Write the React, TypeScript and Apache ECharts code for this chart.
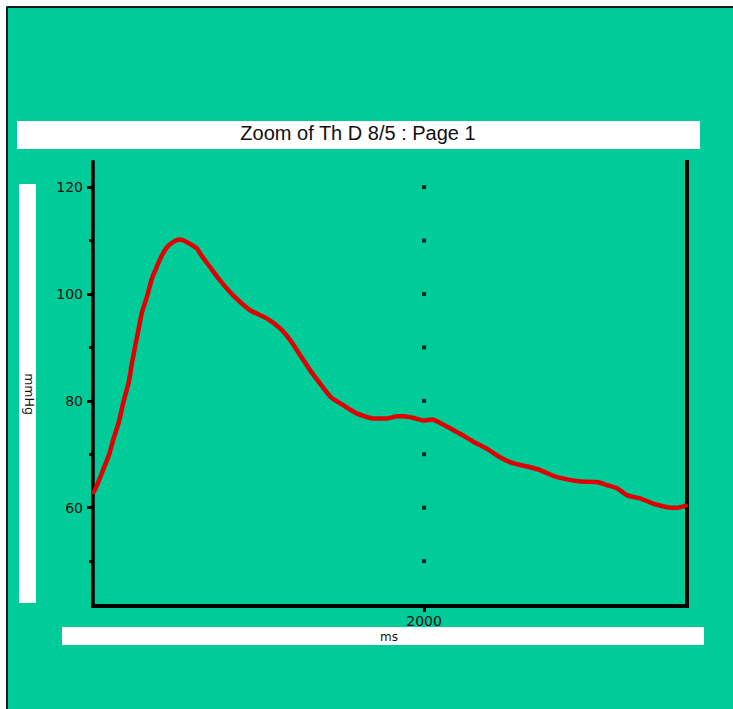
import React, { useEffect, useRef } from "react";
import * as echarts from "echarts";

// Time (ms) and pressure (mmHg)
const timeMs = [
  1501, 1508, 1516, 1524, 1531, 1539, 1546, 1554, 1559, 1564,
  1569, 1574, 1582, 1589, 1597, 1604, 1612, 1622, 1631, 1642,
  1657, 1662, 1677, 1692, 1712, 1738, 1763, 1783, 1798, 1813,
  1828, 1843, 1859, 1879, 1899, 1924, 1944, 1959, 1969, 1984,
  1999, 2012, 2025, 2040, 2055, 2075, 2095, 2115, 2135, 2156,
  2176, 2196, 2216, 2236, 2261, 2277, 2292, 2307, 2327, 2347,
  2367, 2382, 2395,
];
const pressure = [
  62.9, 64.8, 67.3, 69.8, 72.9, 76.0, 79.8, 83.5, 87.2, 90.4,
  93.5, 96.6, 99.7, 102.9, 105.3, 107.2, 108.8, 109.8, 110.2, 109.7,
  108.5, 107.5, 105.0, 102.5, 99.7, 96.9, 95.4, 93.5, 91.3, 88.5,
  85.7, 83.2, 80.7, 79.1, 77.6, 76.7, 76.7, 77.1, 77.1, 76.8,
  76.3, 76.5, 75.8, 74.8, 73.8, 72.3, 71.0, 69.4, 68.3, 67.7,
  67.0, 65.9, 65.3, 64.9, 64.8, 64.2, 63.6, 62.3, 61.7, 60.7,
  60.1, 60.0, 60.4,
];

const yLabelValues = [60, 80, 100, 120];
const yMinorValues = [50, 70, 90, 110];
const xLabelValues = [2000];
const markerX = 2000;
const markerY = [50, 60, 70, 80, 90, 100, 110, 120];

const title = "Zoom of Th D 8/5 : Page 1";
const yName = "mmHg";
const xName = "ms";

const X_MIN = 1500;
const X_MAX = 2397;
const Y_MIN = 41.6;
const Y_MAX = 124.7;

export default function App() {
  const ref = useRef<HTMLDivElement>(null);

  useEffect(() => {
    if (!ref.current) return;
    const chart = echarts.init(ref.current, null, { renderer: "svg" });
    const font = "DejaVu Sans";
    const plain = (v: number) => String(v);
    const option: any = {
      animation: false,
      backgroundColor: "#00CC99",
      grid: { left: 93, right: 46, top: 162, bottom: 103, containLabel: false },
      xAxis: {
        type: "value",
        min: X_MIN,
        max: X_MAX,
        axisLine: { show: true, lineStyle: { color: "#000", width: 4, cap: "square" } },
        axisTick: { show: true, customValues: xLabelValues, length: 6, lineStyle: { color: "#000", width: 3 } },
        axisLabel: { customValues: xLabelValues, formatter: plain, margin: 8, color: "#111", fontFamily: font, fontSize: 14 },
        splitLine: { show: false },
      },
      yAxis: [
        {
          type: "value",
          position: "left",
          min: Y_MIN,
          max: Y_MAX,
          axisLine: { show: true, lineStyle: { color: "#000", width: 3.5, cap: "square" } },
          axisTick: { show: true, customValues: yLabelValues, length: 6, lineStyle: { color: "#000", width: 3 } },
          axisLabel: { customValues: yLabelValues, formatter: plain, margin: 10, color: "#111", fontFamily: font, fontSize: 14 },
          splitLine: { show: false },
        },
        {
          type: "value",
          position: "left",
          min: Y_MIN,
          max: Y_MAX,
          axisLine: { show: false },
          axisTick: { show: true, customValues: yMinorValues, length: 4, lineStyle: { color: "#000", width: 3 } },
          axisLabel: { show: false },
          splitLine: { show: false },
        },
        {
          type: "value",
          position: "right",
          min: Y_MIN,
          max: Y_MAX,
          axisLine: { show: true, lineStyle: { color: "#000", width: 4, cap: "square" } },
          axisTick: { show: false },
          axisLabel: { show: false },
          splitLine: { show: false },
        },
      ],
      series: [
        {
          type: "scatter",
          yAxisIndex: 0,
          symbol: "rect",
          symbolSize: 4,
          itemStyle: { color: "#000" },
          data: markerY.map((v) => [markerX, v]),
          silent: true,
        },
        {
          type: "line",
          yAxisIndex: 0,
          showSymbol: false,
          smooth: 0.2,
          lineStyle: { color: "#e00000", width: 4.5, join: "round", cap: "round" },
          data: timeMs.map((t, i) => [t, pressure[i]]),
          silent: true,
          z: 3,
        },
      ],
      graphic: [
        { type: "rect", shape: { x: 0, y: 0, width: 733, height: 6 }, style: { fill: "#fff" } },
        { type: "rect", shape: { x: 0, y: 0, width: 6, height: 709 }, style: { fill: "#fff" } },
        { type: "line", shape: { x1: 7, y1: 7, x2: 733, y2: 7 }, style: { stroke: "#1a1a1a", lineWidth: 2 } },
        { type: "line", shape: { x1: 7, y1: 7, x2: 7, y2: 709 }, style: { stroke: "#1a1a1a", lineWidth: 2 } },
        { type: "rect", shape: { x: 17, y: 121, width: 683, height: 28 }, style: { fill: "#fff" } },
        {
          type: "text",
          x: 358,
          y: 132.5,
          style: { text: title, fill: "#111", font: '20px "Liberation Sans"', align: "center", verticalAlign: "middle" },
        },
        { type: "rect", shape: { x: 19, y: 184, width: 17, height: 419 }, style: { fill: "#fff" } },
        {
          type: "text",
          x: 29.5,
          y: 394,
          rotation: -Math.PI / 2,
          style: { text: yName, fill: "#111", font: '12.5px "DejaVu Sans"', align: "center", verticalAlign: "middle" },
        },
        { type: "rect", shape: { x: 62, y: 627, width: 642, height: 18 }, style: { fill: "#fff" } },
        {
          type: "text",
          x: 389,
          y: 637,
          style: { text: xName, fill: "#111", font: '12px "DejaVu Sans"', align: "center", verticalAlign: "middle" },
        },
      ],
    };
    chart.setOption(option);
    return () => chart.dispose();
  }, []);

  return (
    <div
      ref={ref}
      style={{ position: "absolute", left: 0, top: 0, width: 733, height: 709 }}
    />
  );
}
